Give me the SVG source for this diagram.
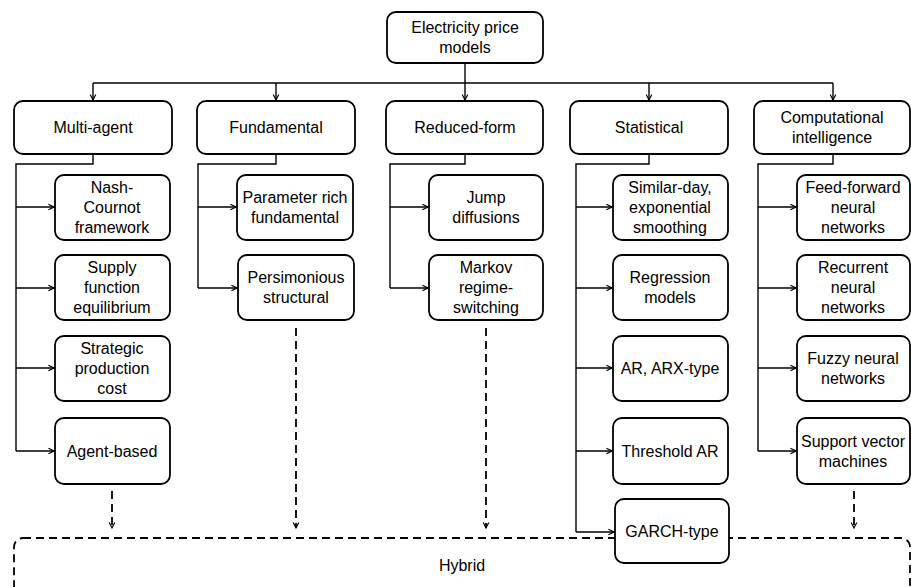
<svg xmlns="http://www.w3.org/2000/svg" width="911" height="587" viewBox="0 0 911 587">
  <style>
    .box { fill: #ffffff; stroke: #000000; stroke-width: 1.8; }
    .lbl { font-family: "Liberation Sans", Arial, sans-serif; font-size: 16px; fill: #000000; text-anchor: middle; }
    .link { fill: none; stroke: #000000; stroke-width: 1.4; }
    .dash { fill: none; stroke: #000000; stroke-width: 1.8; stroke-dasharray: 8 5; }
  </style>
  <defs>
    <marker id="arr" viewBox="0 0 10 10" refX="9" refY="5" markerWidth="7" markerHeight="9" markerUnits="userSpaceOnUse" orient="auto">
      <path d="M1,1 L9,5 L1,9" fill="none" stroke="#000000" stroke-width="1.6"/>
    </marker>
  </defs>

  <rect width="911" height="587" fill="#ffffff"/>

  <!-- hybrid container (drawn first so child boxes sit over its border) -->
  <g id="hybrid">
    <rect class="dash" x="14" y="538" width="896" height="56" rx="9"/>
    <text class="lbl" x="462" y="571">Hybrid</text>
  </g>

  <!-- connectors -->
  <g id="connectors">
    <path class="link" d="M465,63 V83" stroke-width="2"/>
    <path class="link" d="M93,83 H833"/>
    <path class="link" d="M93,83 V100" marker-end="url(#arr)"/>
    <path class="link" d="M276,83 V100" marker-end="url(#arr)"/>
    <path class="link" d="M465,83 V100" marker-end="url(#arr)"/>
    <path class="link" d="M649,83 V100" marker-end="url(#arr)"/>
    <path class="link" d="M833,83 V100" marker-end="url(#arr)"/>

    <!-- multi-agent branch -->
    <path class="link" d="M93,154 V164 H16 V451"/>
    <path class="link" d="M16,207 H54" marker-end="url(#arr)"/>
    <path class="link" d="M16,288 H54" marker-end="url(#arr)"/>
    <path class="link" d="M16,368 H54" marker-end="url(#arr)"/>
    <path class="link" d="M16,451 H54" marker-end="url(#arr)"/>

    <!-- fundamental branch -->
    <path class="link" d="M276,154 V164 H198 V288"/>
    <path class="link" d="M198,207 H236" marker-end="url(#arr)"/>
    <path class="link" d="M198,288 H237" marker-end="url(#arr)"/>

    <!-- reduced-form branch -->
    <path class="link" d="M465,154 V164 H390 V288"/>
    <path class="link" d="M390,207 H428" marker-end="url(#arr)"/>
    <path class="link" d="M390,288 H428" marker-end="url(#arr)"/>

    <!-- statistical branch -->
    <path class="link" d="M649,154 V164 H576 V532"/>
    <path class="link" d="M576,207 H612" marker-end="url(#arr)"/>
    <path class="link" d="M576,288 H612" marker-end="url(#arr)"/>
    <path class="link" d="M576,368 H612" marker-end="url(#arr)"/>
    <path class="link" d="M576,451 H612" marker-end="url(#arr)"/>
    <path class="link" d="M576,532 H614" marker-end="url(#arr)"/>

    <!-- computational intelligence branch -->
    <path class="link" d="M833,154 V164 H758 V451"/>
    <path class="link" d="M758,207 H796" marker-end="url(#arr)"/>
    <path class="link" d="M758,288 H796" marker-end="url(#arr)"/>
    <path class="link" d="M758,368 H796" marker-end="url(#arr)"/>
    <path class="link" d="M758,451 H796" marker-end="url(#arr)"/>

    <!-- dashed links into hybrid -->
    <path class="dash" d="M112,491 V528" marker-end="url(#arr)"/>
    <path class="dash" d="M296,328 V528" marker-end="url(#arr)"/>
    <path class="dash" d="M486,328 V528" marker-end="url(#arr)"/>
    <path class="dash" d="M854,491 V528" marker-end="url(#arr)"/>
  </g>

  <!-- root -->
  <g id="root">
    <rect class="box" x="387" y="12" width="156" height="51" rx="9"/>
    <text class="lbl" x="465" y="33">Electricity price</text>
    <text class="lbl" x="465" y="53">models</text>
  </g>

  <!-- categories -->
  <g id="multi-agent">
    <rect class="box" x="14" y="101" width="158" height="53" rx="9"/>
    <text class="lbl" x="93" y="133">Multi-agent</text>
  </g>
  <g id="fundamental">
    <rect class="box" x="197" y="101" width="158" height="53" rx="9"/>
    <text class="lbl" x="276" y="133">Fundamental</text>
  </g>
  <g id="reduced-form">
    <rect class="box" x="386" y="101" width="157" height="53" rx="9"/>
    <text class="lbl" x="465" y="133">Reduced-form</text>
  </g>
  <g id="statistical">
    <rect class="box" x="570" y="101" width="158" height="53" rx="9"/>
    <text class="lbl" x="649" y="133">Statistical</text>
  </g>
  <g id="computational-intelligence">
    <rect class="box" x="754" y="101" width="156" height="53" rx="9"/>
    <text class="lbl" x="832" y="123">Computational</text>
    <text class="lbl" x="832" y="143">intelligence</text>
  </g>

  <!-- multi-agent models -->
  <g id="nash-cournot">
    <rect class="box" x="55" y="175" width="115" height="65" rx="9"/>
    <text class="lbl" x="112" y="193">Nash-</text>
    <text class="lbl" x="112" y="213">Cournot</text>
    <text class="lbl" x="112" y="233">framework</text>
  </g>
  <g id="supply-function">
    <rect class="box" x="55" y="255" width="115" height="65" rx="9"/>
    <text class="lbl" x="112" y="273">Supply</text>
    <text class="lbl" x="112" y="293">function</text>
    <text class="lbl" x="112" y="313">equilibrium</text>
  </g>
  <g id="strategic-production">
    <rect class="box" x="55" y="336" width="115" height="65" rx="9"/>
    <text class="lbl" x="112" y="354">Strategic</text>
    <text class="lbl" x="112" y="374">production</text>
    <text class="lbl" x="112" y="394">cost</text>
  </g>
  <g id="agent-based">
    <rect class="box" x="55" y="418" width="115" height="66" rx="9"/>
    <text class="lbl" x="112" y="457">Agent-based</text>
  </g>

  <!-- fundamental models -->
  <g id="parameter-rich">
    <rect class="box" x="237" y="175" width="116" height="65" rx="9"/>
    <text class="lbl" x="295" y="203">Parameter rich</text>
    <text class="lbl" x="295" y="223">fundamental</text>
  </g>
  <g id="persimonious">
    <rect class="box" x="238" y="255" width="116" height="65" rx="9"/>
    <text class="lbl" x="296" y="283">Persimonious</text>
    <text class="lbl" x="296" y="303">structural</text>
  </g>

  <!-- reduced-form models -->
  <g id="jump-diffusions">
    <rect class="box" x="429" y="175" width="114" height="65" rx="9"/>
    <text class="lbl" x="486" y="203">Jump</text>
    <text class="lbl" x="486" y="223">diffusions</text>
  </g>
  <g id="markov">
    <rect class="box" x="429" y="255" width="114" height="65" rx="9"/>
    <text class="lbl" x="486" y="273">Markov</text>
    <text class="lbl" x="486" y="293">regime-</text>
    <text class="lbl" x="486" y="313">switching</text>
  </g>

  <!-- statistical models -->
  <g id="similar-day">
    <rect class="box" x="613" y="175" width="115" height="65" rx="9"/>
    <text class="lbl" x="670" y="193">Similar-day,</text>
    <text class="lbl" x="670" y="213">exponential</text>
    <text class="lbl" x="670" y="233">smoothing</text>
  </g>
  <g id="regression">
    <rect class="box" x="613" y="255" width="115" height="65" rx="9"/>
    <text class="lbl" x="670" y="283">Regression</text>
    <text class="lbl" x="670" y="303">models</text>
  </g>
  <g id="ar-arx">
    <rect class="box" x="613" y="336" width="115" height="65" rx="9"/>
    <text class="lbl" x="670" y="374">AR, ARX-type</text>
  </g>
  <g id="threshold-ar">
    <rect class="box" x="613" y="418" width="115" height="66" rx="9"/>
    <text class="lbl" x="670" y="457">Threshold AR</text>
  </g>
  <g id="garch">
    <rect class="box" x="615" y="499" width="114" height="64" rx="9"/>
    <text class="lbl" x="672" y="537">GARCH-type</text>
  </g>

  <!-- computational intelligence models -->
  <g id="feed-forward">
    <rect class="box" x="797" y="175" width="113" height="65" rx="9"/>
    <text class="lbl" x="853" y="193">Feed-forward</text>
    <text class="lbl" x="853" y="213">neural</text>
    <text class="lbl" x="853" y="233">networks</text>
  </g>
  <g id="recurrent">
    <rect class="box" x="797" y="255" width="113" height="65" rx="9"/>
    <text class="lbl" x="853" y="273">Recurrent</text>
    <text class="lbl" x="853" y="293">neural</text>
    <text class="lbl" x="853" y="313">networks</text>
  </g>
  <g id="fuzzy">
    <rect class="box" x="797" y="336" width="113" height="65" rx="9"/>
    <text class="lbl" x="853" y="364">Fuzzy neural</text>
    <text class="lbl" x="853" y="384">networks</text>
  </g>
  <g id="svm">
    <rect class="box" x="797" y="418" width="113" height="66" rx="9"/>
    <text class="lbl" x="853" y="447">Support vector</text>
    <text class="lbl" x="853" y="467">machines</text>
  </g>
</svg>
